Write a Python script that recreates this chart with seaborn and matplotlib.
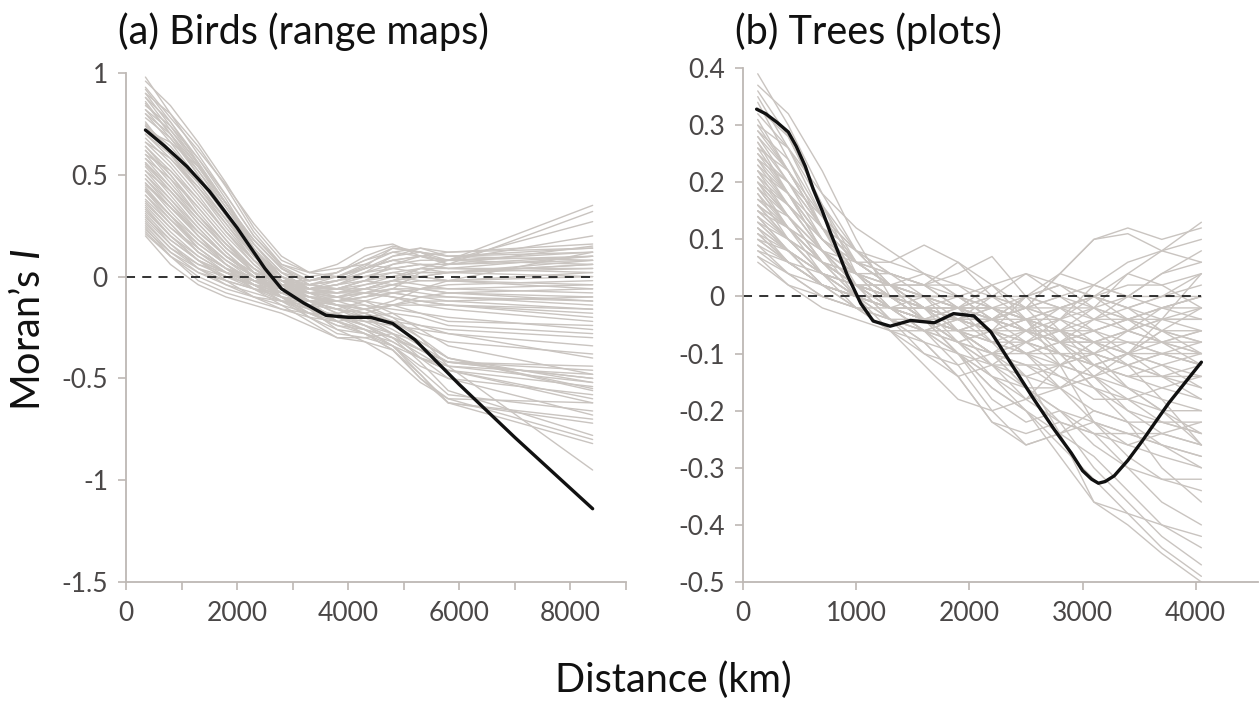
import matplotlib
matplotlib.use("Agg")
import matplotlib.pyplot as plt
import seaborn as sns
import pandas as pd
from matplotlib.ticker import FixedLocator

# ---- (a) birds: distance grid (km) and Moran's I of each species curve
bird_dist = [350, 800, 1300, 1800, 2300, 2800, 3300, 3800, 4300, 4800, 5300, 5800, 8400]
bird_curves = [
    [0.98, 0.80, 0.60, 0.40, 0.20, 0.05, -0.02, 0.02, 0.08, 0.12, 0.10, 0.08, 0.35],
    [0.93, 0.78, 0.62, 0.45, 0.26, 0.10, 0.02, 0.00, 0.05, 0.14, 0.12, 0.06, 0.32],
    [0.90, 0.74, 0.55, 0.36, 0.18, 0.04, -0.04, -0.06, -0.02, 0.06, 0.10, 0.08, 0.27],
    [0.88, 0.76, 0.58, 0.38, 0.16, 0.00, -0.08, -0.12, -0.10, -0.06, 0.02, 0.06, 0.15],
    [0.85, 0.70, 0.52, 0.32, 0.12, -0.02, -0.10, -0.14, -0.16, -0.12, -0.06, -0.02, 0.12],
    [0.82, 0.72, 0.56, 0.36, 0.14, -0.04, -0.12, -0.16, -0.18, -0.22, -0.30, -0.40, -0.55],
    [0.80, 0.66, 0.48, 0.30, 0.10, -0.04, -0.14, -0.20, -0.24, -0.30, -0.42, -0.56, -0.78],
    [0.78, 0.68, 0.52, 0.34, 0.16, 0.02, -0.06, -0.08, -0.04, 0.00, 0.04, 0.02, 0.08],
    [0.75, 0.62, 0.46, 0.28, 0.10, -0.02, -0.08, -0.10, -0.12, -0.18, -0.26, -0.34, -0.48],
    [0.72, 0.66, 0.54, 0.36, 0.18, 0.04, -0.04, -0.06, -0.08, -0.10, -0.12, -0.14, -0.18],
    [0.70, 0.58, 0.42, 0.26, 0.10, 0.00, -0.06, -0.04, 0.02, 0.10, 0.14, 0.10, 0.12],
    [0.68, 0.56, 0.40, 0.22, 0.06, -0.06, -0.14, -0.22, -0.28, -0.34, -0.46, -0.58, -0.66],
    [0.66, 0.54, 0.38, 0.22, 0.08, -0.02, -0.06, -0.04, 0.00, 0.02, 0.00, -0.02, 0.02],
    [0.64, 0.52, 0.36, 0.20, 0.06, -0.04, -0.10, -0.14, -0.18, -0.24, -0.32, -0.40, -0.52],
    [0.62, 0.50, 0.34, 0.18, 0.04, -0.06, -0.12, -0.16, -0.12, -0.08, -0.06, -0.06, -0.08],
    [0.60, 0.46, 0.30, 0.16, 0.04, -0.04, -0.08, -0.10, -0.06, -0.02, 0.00, 0.02, 0.06],
    [0.58, 0.48, 0.34, 0.18, 0.02, -0.10, -0.18, -0.22, -0.26, -0.34, -0.48, -0.62, -0.82],
    [0.56, 0.44, 0.30, 0.16, 0.04, -0.04, -0.06, -0.02, 0.04, 0.08, 0.06, 0.04, 0.04],
    [0.55, 0.42, 0.26, 0.12, 0.00, -0.08, -0.12, -0.14, -0.16, -0.20, -0.24, -0.26, -0.30],
    [0.52, 0.42, 0.28, 0.14, 0.02, -0.06, -0.10, -0.10, -0.08, -0.10, -0.14, -0.16, -0.22],
    [0.50, 0.38, 0.24, 0.10, 0.00, -0.06, -0.08, -0.06, -0.04, -0.02, -0.04, -0.06, -0.04],
    [0.48, 0.36, 0.22, 0.10, 0.00, -0.06, -0.12, -0.18, -0.24, -0.32, -0.40, -0.46, -0.60],
    [0.46, 0.34, 0.20, 0.08, -0.02, -0.10, -0.16, -0.20, -0.18, -0.14, -0.10, -0.08, -0.12],
    [0.45, 0.34, 0.22, 0.10, 0.02, -0.02, -0.04, 0.00, 0.06, 0.12, 0.14, 0.12, 0.14],
    [0.43, 0.30, 0.18, 0.06, -0.04, -0.12, -0.18, -0.24, -0.28, -0.36, -0.50, -0.62, -0.70],
    [0.42, 0.30, 0.16, 0.06, -0.02, -0.06, -0.06, -0.04, -0.02, -0.04, -0.06, -0.08, -0.10],
    [0.40, 0.28, 0.16, 0.06, -0.02, -0.08, -0.12, -0.14, -0.14, -0.16, -0.18, -0.20, -0.26],
    [0.38, 0.26, 0.12, 0.02, -0.06, -0.12, -0.14, -0.12, -0.08, -0.06, -0.08, -0.10, -0.14],
    [0.36, 0.24, 0.14, 0.04, -0.04, -0.10, -0.16, -0.22, -0.26, -0.30, -0.36, -0.42, -0.50],
    [0.35, 0.22, 0.10, 0.02, -0.02, -0.04, -0.04, -0.02, 0.02, 0.06, 0.08, 0.08, 0.10],
    [0.33, 0.20, 0.08, 0.00, -0.06, -0.10, -0.12, -0.12, -0.10, -0.08, -0.06, -0.04, -0.02],
    [0.32, 0.20, 0.10, 0.02, -0.04, -0.08, -0.10, -0.12, -0.16, -0.22, -0.28, -0.32, -0.38],
    [0.30, 0.16, 0.04, -0.04, -0.10, -0.14, -0.18, -0.20, -0.22, -0.24, -0.26, -0.28, -0.34],
    [0.28, 0.16, 0.06, 0.00, -0.04, -0.06, -0.06, -0.06, -0.06, -0.08, -0.10, -0.10, -0.12],
    [0.27, 0.14, 0.04, -0.02, -0.06, -0.08, -0.08, -0.06, -0.02, 0.00, 0.02, 0.02, 0.04],
    [0.25, 0.12, 0.02, -0.04, -0.08, -0.12, -0.16, -0.20, -0.26, -0.34, -0.44, -0.50, -0.58],
    [0.24, 0.10, -0.02, -0.08, -0.12, -0.16, -0.18, -0.18, -0.16, -0.14, -0.14, -0.14, -0.16],
    [0.22, 0.10, 0.00, -0.06, -0.10, -0.12, -0.12, -0.10, -0.08, -0.06, -0.06, -0.08, -0.06],
    [0.20, 0.06, -0.04, -0.10, -0.14, -0.18, -0.24, -0.30, -0.32, -0.36, -0.48, -0.62, -0.72],
    [0.86, 0.70, 0.50, 0.30, 0.12, 0.00, -0.06, -0.10, -0.14, -0.20, -0.30, -0.44, -0.95],
    [0.76, 0.60, 0.42, 0.24, 0.08, -0.04, -0.12, -0.18, -0.24, -0.30, -0.38, -0.46, -0.62],
    [0.62, 0.48, 0.30, 0.14, 0.02, -0.08, -0.14, -0.20, -0.22, -0.22, -0.24, -0.28, -0.40],
    [0.54, 0.40, 0.24, 0.10, 0.00, -0.08, -0.14, -0.20, -0.24, -0.28, -0.36, -0.44, -0.48],
    [0.44, 0.30, 0.14, 0.04, -0.06, -0.14, -0.22, -0.30, -0.30, -0.28, -0.32, -0.40, -0.56],
    [0.34, 0.20, 0.08, -0.02, -0.10, -0.16, -0.20, -0.22, -0.20, -0.18, -0.20, -0.24, -0.28],
    [0.92, 0.76, 0.56, 0.36, 0.16, 0.02, -0.06, -0.08, -0.06, -0.02, 0.04, 0.08, 0.20],
    [0.70, 0.60, 0.46, 0.28, 0.10, -0.02, -0.08, -0.10, -0.08, -0.04, 0.00, 0.02, 0.00],
    [0.50, 0.36, 0.20, 0.06, -0.04, -0.10, -0.14, -0.16, -0.20, -0.26, -0.34, -0.42, -0.46],
    [0.96, 0.84, 0.66, 0.46, 0.24, 0.08, 0.02, 0.06, 0.14, 0.16, 0.10, 0.06, 0.10],
    [0.90, 0.80, 0.64, 0.44, 0.22, 0.06, 0.00, 0.02, 0.10, 0.15, 0.12, 0.10, 0.14],
    [0.84, 0.74, 0.58, 0.40, 0.20, 0.06, 0.02, 0.04, 0.06, 0.04, 0.02, 0.02, 0.06],
    [0.80, 0.70, 0.54, 0.36, 0.18, 0.04, -0.02, 0.00, 0.04, 0.08, 0.10, 0.12, 0.16],
    [0.74, 0.64, 0.48, 0.30, 0.12, 0.00, -0.04, -0.02, 0.02, 0.04, 0.06, 0.04, 0.10],
    [0.66, 0.58, 0.44, 0.28, 0.12, 0.02, -0.02, 0.00, 0.04, 0.10, 0.12, 0.10, 0.08],
    [0.60, 0.52, 0.38, 0.22, 0.08, -0.02, -0.06, -0.06, -0.02, 0.02, 0.04, 0.04, 0.02],
    [0.58, 0.44, 0.28, 0.14, 0.04, -0.04, -0.08, -0.08, -0.06, -0.04, -0.02, -0.02, -0.06],
    [0.52, 0.38, 0.22, 0.10, 0.02, -0.02, -0.02, 0.02, 0.08, 0.14, 0.12, 0.08, 0.06],
    [0.48, 0.34, 0.20, 0.08, 0.00, -0.04, -0.06, -0.04, 0.00, 0.04, 0.06, 0.06, 0.08],
    [0.46, 0.32, 0.18, 0.08, 0.00, -0.06, -0.10, -0.12, -0.10, -0.08, -0.10, -0.12, -0.16],
    [0.40, 0.26, 0.12, 0.04, -0.02, -0.06, -0.08, -0.08, -0.06, -0.02, 0.00, -0.02, -0.04],
    [0.37, 0.24, 0.12, 0.04, 0.00, -0.02, -0.02, 0.00, 0.04, 0.08, 0.10, 0.08, 0.12],
    [0.31, 0.18, 0.08, 0.02, -0.02, -0.04, -0.06, -0.08, -0.08, -0.10, -0.12, -0.14, -0.20],
    [0.29, 0.18, 0.08, 0.02, -0.02, -0.06, -0.10, -0.14, -0.16, -0.14, -0.12, -0.12, -0.10],
    [0.26, 0.14, 0.06, 0.02, -0.02, -0.04, -0.04, -0.02, 0.00, 0.00, -0.02, -0.02, 0.00],
    [0.23, 0.12, 0.04, 0.00, -0.04, -0.08, -0.12, -0.16, -0.22, -0.28, -0.36, -0.42, -0.44],
    [0.21, 0.10, 0.02, -0.02, -0.06, -0.10, -0.12, -0.12, -0.12, -0.14, -0.18, -0.22, -0.24],
    [0.88, 0.72, 0.54, 0.34, 0.14, 0.00, -0.08, -0.14, -0.20, -0.28, -0.40, -0.50, -0.68],
    [0.82, 0.68, 0.50, 0.30, 0.12, -0.02, -0.12, -0.22, -0.28, -0.36, -0.50, -0.60, -0.80],
    [0.74, 0.60, 0.44, 0.26, 0.08, -0.06, -0.16, -0.26, -0.32, -0.40, -0.52, -0.60, -0.62],
    [0.64, 0.50, 0.32, 0.16, 0.02, -0.10, -0.20, -0.28, -0.30, -0.34, -0.40, -0.44, -0.52],
    [0.56, 0.42, 0.26, 0.12, 0.00, -0.10, -0.18, -0.24, -0.26, -0.30, -0.36, -0.42, -0.50],
    [0.42, 0.28, 0.14, 0.04, -0.04, -0.12, -0.20, -0.26, -0.28, -0.32, -0.40, -0.46, -0.54],
]
bird_mean_dist = [350, 700, 1100, 1500, 2000, 2500, 2800, 3200, 3600, 4000, 4400,
                  4800, 5200, 5600, 6000, 7000, 8400]
bird_mean = [0.72, 0.64, 0.54, 0.42, 0.24, 0.04, -0.06, -0.13, -0.19, -0.20, -0.20,
             -0.23, -0.31, -0.42, -0.53, -0.79, -1.14]

# ---- (b) trees
tree_dist = [130, 400, 700, 1000, 1300, 1600, 1900, 2200, 2500, 2800, 3100, 3400, 3700, 4050]
tree_curves = [
    [0.39, 0.30, 0.18, 0.08, 0.02, -0.02, -0.06, -0.10, -0.16, -0.22, -0.30, -0.36, -0.42, -0.47],
    [0.37, 0.32, 0.22, 0.10, 0.00, -0.04, -0.02, 0.00, -0.04, -0.12, -0.22, -0.24, -0.26, -0.30],
    [0.35, 0.26, 0.14, 0.06, 0.04, 0.02, -0.02, -0.08, -0.14, -0.24, -0.36, -0.40, -0.45, -0.50],
    [0.33, 0.28, 0.16, 0.04, -0.02, -0.04, -0.06, -0.04, 0.00, 0.02, 0.00, -0.04, -0.06, -0.08],
    [0.31, 0.22, 0.12, 0.06, 0.02, -0.02, -0.08, -0.14, -0.18, -0.16, -0.12, -0.10, -0.14, -0.18],
    [0.29, 0.24, 0.14, 0.08, 0.06, 0.04, 0.00, -0.04, -0.06, -0.04, 0.02, 0.06, 0.08, 0.10],
    [0.28, 0.20, 0.10, 0.04, 0.00, -0.04, -0.10, -0.18, -0.22, -0.20, -0.22, -0.28, -0.32, -0.34],
    [0.26, 0.22, 0.12, 0.02, -0.04, -0.06, -0.04, 0.00, 0.04, 0.02, -0.02, -0.06, -0.08, -0.10],
    [0.25, 0.18, 0.10, 0.06, 0.04, 0.00, -0.06, -0.10, -0.08, -0.04, 0.00, 0.04, 0.02, -0.02],
    [0.24, 0.16, 0.08, 0.02, -0.02, -0.06, -0.12, -0.20, -0.26, -0.24, -0.20, -0.22, -0.26, -0.28],
    [0.23, 0.18, 0.12, 0.06, 0.02, 0.00, 0.00, -0.02, -0.04, -0.06, -0.08, -0.10, -0.08, -0.06],
    [0.22, 0.14, 0.06, 0.00, -0.02, -0.02, 0.00, 0.02, -0.02, -0.08, -0.12, -0.10, -0.04, 0.04],
    [0.21, 0.16, 0.08, 0.02, -0.04, -0.10, -0.14, -0.12, -0.08, -0.10, -0.16, -0.20, -0.22, -0.24],
    [0.20, 0.12, 0.06, 0.04, 0.04, 0.02, -0.02, -0.06, -0.10, -0.12, -0.10, -0.06, -0.04, -0.04],
    [0.19, 0.14, 0.08, 0.02, 0.00, 0.00, -0.02, -0.04, -0.02, 0.04, 0.10, 0.11, 0.08, 0.06],
    [0.18, 0.10, 0.04, 0.00, -0.02, -0.04, -0.06, -0.10, -0.16, -0.20, -0.24, -0.30, -0.36, -0.40],
    [0.17, 0.12, 0.06, 0.02, -0.02, -0.06, -0.08, -0.06, -0.04, -0.06, -0.10, -0.12, -0.10, -0.08],
    [0.16, 0.10, 0.06, 0.04, 0.00, -0.04, -0.06, -0.04, 0.00, 0.02, 0.00, -0.02, 0.00, 0.02],
    [0.15, 0.10, 0.04, 0.00, -0.04, -0.08, -0.14, -0.22, -0.24, -0.22, -0.24, -0.26, -0.24, -0.22],
    [0.14, 0.08, 0.04, 0.02, 0.00, -0.02, -0.02, 0.00, 0.00, -0.02, -0.06, -0.10, -0.12, -0.14],
    [0.13, 0.10, 0.06, 0.02, 0.00, 0.00, -0.04, -0.08, -0.10, -0.08, -0.04, 0.00, 0.04, 0.08],
    [0.12, 0.06, 0.02, 0.00, -0.02, -0.06, -0.10, -0.14, -0.20, -0.28, -0.36, -0.38, -0.40, -0.42],
    [0.11, 0.08, 0.04, 0.02, -0.02, -0.04, -0.06, -0.08, -0.06, -0.02, 0.00, -0.02, -0.06, -0.10],
    [0.10, 0.06, 0.02, 0.00, 0.00, -0.02, -0.04, -0.06, -0.10, -0.14, -0.18, -0.18, -0.16, -0.14],
    [0.09, 0.06, 0.04, 0.02, 0.00, -0.02, -0.02, -0.02, -0.04, -0.04, -0.02, 0.00, 0.00, 0.00],
    [0.08, 0.04, 0.00, -0.02, -0.04, -0.06, -0.08, -0.10, -0.12, -0.16, -0.22, -0.26, -0.28, -0.30],
    [0.07, 0.04, 0.02, 0.00, -0.02, -0.02, -0.04, -0.06, -0.04, -0.06, -0.08, -0.06, -0.04, -0.02],
    [0.06, 0.02, 0.00, -0.02, -0.04, -0.04, -0.06, -0.08, -0.10, -0.10, -0.12, -0.14, -0.16, -0.18],
    [0.30, 0.26, 0.18, 0.12, 0.08, 0.04, 0.00, -0.04, -0.02, 0.04, 0.10, 0.12, 0.10, 0.12],
    [0.27, 0.20, 0.12, 0.08, 0.04, 0.02, 0.06, 0.02, -0.04, -0.10, -0.16, -0.22, -0.30, -0.36],
    [0.24, 0.20, 0.14, 0.08, 0.02, -0.04, -0.10, -0.16, -0.20, -0.24, -0.28, -0.34, -0.40, -0.44],
    [0.22, 0.16, 0.10, 0.04, 0.00, -0.04, -0.08, -0.06, 0.00, 0.04, 0.02, 0.00, 0.04, 0.06],
    [0.19, 0.12, 0.06, 0.00, -0.06, -0.12, -0.18, -0.20, -0.18, -0.12, -0.08, -0.06, -0.08, -0.12],
    [0.16, 0.12, 0.08, 0.04, 0.02, 0.02, 0.00, -0.04, -0.08, -0.12, -0.14, -0.12, -0.10, -0.12],
    [0.14, 0.08, 0.02, -0.02, -0.06, -0.10, -0.12, -0.10, -0.06, -0.06, -0.10, -0.16, -0.20, -0.26],
    [0.12, 0.08, 0.04, 0.02, 0.02, 0.00, -0.02, -0.04, -0.06, -0.08, -0.08, -0.06, -0.02, 0.00],
    [0.10, 0.06, 0.02, 0.00, -0.02, -0.04, -0.06, -0.10, -0.14, -0.16, -0.14, -0.10, -0.06, -0.06],
    [0.34, 0.24, 0.12, 0.04, 0.00, -0.04, -0.10, -0.16, -0.20, -0.26, -0.32, -0.38, -0.44, -0.49],
    [0.20, 0.14, 0.06, 0.02, 0.02, 0.04, 0.02, -0.02, -0.06, -0.08, -0.06, -0.04, -0.06, -0.08],
    [0.15, 0.10, 0.06, 0.02, -0.02, -0.04, -0.04, -0.02, -0.02, -0.04, -0.06, -0.04, -0.02, -0.04],
    [0.36, 0.28, 0.16, 0.06, 0.02, 0.00, -0.02, -0.02, -0.04, -0.08, -0.14, -0.20, -0.24, -0.26],
    [0.32, 0.26, 0.16, 0.08, 0.04, 0.02, 0.02, 0.00, -0.02, -0.02, 0.00, -0.02, -0.04, -0.04],
    [0.30, 0.22, 0.12, 0.04, 0.00, -0.02, -0.04, -0.06, -0.08, -0.06, -0.02, 0.04, 0.08, 0.13],
    [0.28, 0.22, 0.14, 0.06, 0.02, -0.02, -0.06, -0.12, -0.16, -0.16, -0.14, -0.16, -0.20, -0.24],
    [0.26, 0.18, 0.08, 0.02, 0.00, 0.00, 0.00, -0.02, -0.06, -0.10, -0.12, -0.10, -0.06, -0.02],
    [0.25, 0.20, 0.12, 0.06, 0.02, -0.02, -0.04, -0.04, -0.02, -0.04, -0.08, -0.12, -0.14, -0.16],
    [0.23, 0.16, 0.08, 0.02, -0.02, -0.04, -0.02, 0.02, 0.04, 0.00, -0.04, -0.04, -0.02, 0.00],
    [0.22, 0.18, 0.10, 0.04, 0.00, -0.04, -0.08, -0.12, -0.14, -0.12, -0.10, -0.12, -0.18, -0.26],
    [0.21, 0.14, 0.06, 0.02, 0.00, -0.02, -0.04, -0.06, -0.08, -0.10, -0.12, -0.14, -0.14, -0.12],
    [0.20, 0.16, 0.10, 0.06, 0.02, 0.00, -0.02, -0.04, -0.02, 0.00, 0.02, 0.00, -0.02, -0.02],
    [0.18, 0.12, 0.06, 0.02, 0.00, -0.02, -0.06, -0.10, -0.12, -0.12, -0.14, -0.18, -0.22, -0.24],
    [0.17, 0.14, 0.08, 0.04, 0.02, 0.00, -0.02, -0.04, -0.06, -0.06, -0.04, -0.02, 0.00, 0.04],
    [0.16, 0.10, 0.04, 0.00, -0.02, -0.04, -0.06, -0.06, -0.06, -0.08, -0.10, -0.12, -0.14, -0.14],
    [0.15, 0.12, 0.06, 0.02, 0.00, -0.02, -0.04, -0.06, -0.04, -0.02, -0.02, -0.04, -0.08, -0.10],
    [0.14, 0.10, 0.04, 0.00, -0.02, -0.02, -0.04, -0.04, -0.06, -0.08, -0.12, -0.14, -0.12, -0.10],
    [0.13, 0.08, 0.04, 0.02, 0.00, -0.02, -0.04, -0.02, 0.00, -0.02, -0.04, -0.06, -0.08, -0.06],
    [0.12, 0.08, 0.02, -0.02, -0.04, -0.06, -0.06, -0.04, -0.04, -0.06, -0.08, -0.08, -0.10, -0.12],
    [0.11, 0.06, 0.02, 0.00, 0.00, -0.02, -0.02, -0.04, -0.06, -0.08, -0.06, -0.04, -0.04, -0.06],
    [0.10, 0.08, 0.04, 0.00, -0.02, -0.04, -0.08, -0.12, -0.18, -0.22, -0.24, -0.24, -0.24, -0.26],
    [0.09, 0.04, 0.00, -0.02, -0.02, 0.00, 0.00, -0.02, -0.04, -0.02, 0.00, 0.02, 0.02, 0.04],
    [0.08, 0.06, 0.02, 0.00, -0.02, -0.04, -0.04, -0.06, -0.08, -0.10, -0.10, -0.08, -0.08, -0.08],
    [0.07, 0.02, -0.02, -0.04, -0.06, -0.08, -0.10, -0.12, -0.12, -0.14, -0.16, -0.18, -0.20, -0.20],
    [0.27, 0.18, 0.08, 0.00, -0.04, -0.08, -0.14, -0.22, -0.26, -0.24, -0.22, -0.24, -0.26, -0.28],
    [0.24, 0.18, 0.10, 0.04, 0.02, 0.02, 0.04, 0.07, 0.00, -0.06, -0.12, -0.16, -0.18, -0.20],
    [0.19, 0.12, 0.04, -0.02, -0.06, -0.06, -0.04, -0.06, -0.10, -0.16, -0.20, -0.22, -0.22, -0.22],
    [0.16, 0.12, 0.08, 0.06, 0.06, 0.09, 0.06, 0.00, -0.02, 0.00, -0.02, -0.04, -0.02, 0.00],
    [0.13, 0.08, 0.02, 0.00, -0.02, -0.04, -0.08, -0.10, -0.10, -0.08, -0.08, -0.10, -0.12, -0.16],
    [0.29, 0.22, 0.12, 0.04, -0.02, -0.06, -0.10, -0.14, -0.16, -0.20, -0.26, -0.30, -0.32, -0.32],
    [0.20, 0.14, 0.08, 0.04, 0.00, -0.04, -0.06, -0.08, -0.08, -0.06, -0.06, -0.08, -0.10, -0.10],
    [0.11, 0.06, 0.02, 0.00, -0.02, -0.02, -0.02, -0.02, -0.04, -0.06, -0.08, -0.10, -0.10, -0.12],
]
tree_mean_dist = [120, 200, 300, 400, 470, 550, 620, 700, 770, 920, 1040, 1150, 1300, 1480,
                  1690, 1860, 2040, 2190, 2370, 2570, 2750, 2900, 3000, 3080, 3140, 3200,
                  3280, 3400, 3520, 3760, 4050]
tree_mean = [0.328, 0.320, 0.305, 0.288, 0.263, 0.228, 0.188, 0.150, 0.113, 0.038, -0.012,
             -0.043, -0.052, -0.042, -0.046, -0.030, -0.034, -0.062, -0.118, -0.180, -0.233,
             -0.274, -0.305, -0.320, -0.327, -0.324, -0.314, -0.287, -0.255, -0.187, -0.115]

bird_yticks = [1, 0.5, 0, -0.5, -1, -1.5]
tree_yticks = [0.4, 0.3, 0.2, 0.1, 0, -0.1, -0.2, -0.3, -0.4, -0.5]

GREY = "#c9c4c0"
AXIS = "#bdb8b4"
TICKTXT = "#4a4747"

sns.set_theme(style="white")
plt.rcParams["font.family"] = ["Lato", "DejaVu Sans"]
plt.rcParams["mathtext.fontset"] = "custom"
plt.rcParams["mathtext.it"] = "Lato:italic"


def long_form(dist, curves):
    rows = []
    for k, c in enumerate(curves):
        for d, v in zip(dist, c):
            rows.append({"line": k, "dist": d, "I": v})
    return pd.DataFrame(rows)


def panel(ax, dist, curves, mdist, mean, xlim, ylim, xmajor, xminor, yticks):
    df = long_form(dist, curves)
    sns.lineplot(data=df, x="dist", y="I", units="line", estimator=None,
                 color=GREY, lw=1.0, ax=ax)
    ax.plot([0, dist[-1]], [0, 0], color="#222222", lw=1.3, dashes=(5, 4))
    sns.lineplot(x=mdist, y=mean, color="#111111", lw=2.4, ax=ax)
    ax.set_xlim(*xlim)
    ax.set_ylim(*ylim)
    sns.despine(ax=ax)
    for s in ("left", "bottom"):
        ax.spines[s].set_color(AXIS)
        ax.spines[s].set_linewidth(1.3)
    ax.set_xticks(xmajor)
    ax.set_xticklabels([str(x) for x in xmajor])
    ax.xaxis.set_minor_locator(FixedLocator(xminor))
    ax.set_yticks(yticks)
    ax.set_yticklabels([f"{v:g}" for v in yticks])
    ax.tick_params(which="both", direction="out", color=AXIS, width=1.2, length=6,
                   labelcolor=TICKTXT, labelsize=19, bottom=True, left=True)
    ax.tick_params(axis="x", pad=8)
    ax.tick_params(axis="y", pad=7)
    ax.set_xlabel("")
    ax.set_ylabel("")


fig = plt.figure(figsize=(12.6, 7.06), dpi=100)
ax1 = fig.add_axes([0.1, 0.1756, 0.3968, 0.721])
ax2 = fig.add_axes([0.5897, 0.1756, 0.4087, 0.728])

panel(ax1, bird_dist, bird_curves, bird_mean_dist, bird_mean, (0, 9000), (-1.5, 1),
      list(range(0, 9000, 2000)), list(range(1000, 10000, 2000)), bird_yticks)
panel(ax2, tree_dist, tree_curves, tree_mean_dist, tree_mean, (0, 4550), (-0.5, 0.4),
      list(range(0, 5000, 1000)), [], tree_yticks)

fig.text(118 / 1260, 1 - 32 / 706, "(a) Birds (range maps)", fontsize=28.5,
         color="#111111", ha="left", va="center")
fig.text(735 / 1260, 1 - 32 / 706, "(b) Trees (plots)", fontsize=28.5,
         color="#111111", ha="left", va="center")
fig.text(673 / 1260, 1 - 680 / 706, "Distance (km)", fontsize=28.5,
         color="#111111", ha="center", va="center")
fig.text(28 / 1260, 1 - 330 / 706, "Moran\u2019s $\\mathit{I}$", fontsize=28.5,
         color="#111111", ha="center", va="center", rotation=90)

fig.savefig("out.png", dpi=100)
